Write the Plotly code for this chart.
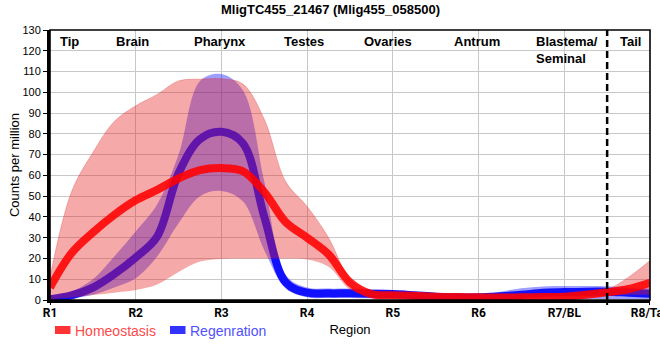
import plotly.graph_objects as go

# x positions along the body axis (R1 = 1 ... R8 = 8)
pos = [1.0, 1.25, 1.5, 1.75, 2.0, 2.25, 2.5, 2.75, 3.0, 3.25, 3.5, 3.75, 4.0, 4.25,
       4.5, 4.75, 5.0, 5.25, 5.5, 5.75, 6.0, 6.25, 6.5, 6.75, 7.0, 7.25, 7.5, 7.75, 8.0]

tick_vals = [1, 2, 3, 4, 5, 6, 7, 8]
tick_text = ["R1", "R2", "R3", "R4", "R5", "R6", "R7/BL", "R8/Tail"]

homeo_mean = [6, 22.5, 32.5, 41, 48, 53, 58.5, 62.5, 63.5, 62, 52, 37.5, 30, 22,
              8.5, 2.8, 2.3, 2.0, 1.6, 1.4, 1.3, 1.2, 1.3, 1.4, 1.6, 2.5, 3.7, 5.3, 8.3]
homeo_hi = [11, 52, 71, 86, 93.5, 99, 105.5, 106.3, 106.5, 104, 87, 57, 45, 30,
            10, 3.5, 3.0, 2.5, 2.0, 1.8, 1.6, 1.6, 1.8, 2.2, 2.6, 3.5, 5, 11, 19]
homeo_lo = [0.3, 1.2, 2.4, 3.5, 4.8, 7.5, 13.5, 18.5, 19.8, 20, 20, 20, 19.5, 16,
            5, 2, 1.5, 1.2, 1.0, 0.9, 0.8, 0.8, 0.8, 0.8, 0.8, 1.2, 2, 2.5, 2.5]

regen_mean = [0.3, 2.2, 6, 12.5, 20.5, 30.5, 61, 77.5, 81, 75.5, 40, 8.5, 3.5, 3.2,
              3.2, 3.0, 2.9, 2.3, 1.6, 1.3, 1.3, 1.8, 2.5, 3.5, 3.8, 4.0, 4.0, 3.5, 3.0]
regen_hi = [0.8, 4, 10, 21, 33, 46, 70, 105.5, 108.8, 101, 57, 12, 6, 5.5,
            5.5, 5, 4.8, 4, 3, 2.5, 2.3, 4, 5.7, 6.5, 6.7, 6.7, 6.6, 6, 5.5]
regen_lo = [0, 0.8, 2.5, 6, 10.5, 21, 37, 50, 52.5, 47.5, 24, 5.5, 1.3, 1,
            1, 0.8, 0.8, 0.5, 0.3, 0.2, 0.2, 0.3, 0.5, 0.5, 0.5, 0.5, 0.5, 0.5, 0.5]

regions = ["Tip", "Brain", "Pharynx", "Testes", "Ovaries", "Antrum", "Blastema/<br>Seminal", "Tail"]
region_x = [1.222, 1.968, 2.983, 3.963, 4.943, 5.982, 6.647, 7.767]
region_anchor = ["center", "center", "center", "center", "center", "center", "left", "center"]

FONT = "Liberation Sans, Arial, sans-serif"
TICKFONT = "Roboto, Liberation Sans, Arial, sans-serif"

fig = go.Figure()
sp = dict(shape="spline", smoothing=1.0)

fig.add_trace(go.Scatter(x=pos, y=regen_lo, mode="lines", line=dict(width=0, **sp),
                         showlegend=False, hoverinfo="skip"))
fig.add_trace(go.Scatter(x=pos, y=regen_hi, mode="lines", line=dict(width=0, **sp),
                         fill="tonexty", fillcolor="rgba(0,0,255,0.38)",
                         showlegend=False, hoverinfo="skip"))
fig.add_trace(go.Scatter(x=pos, y=regen_mean, mode="lines",
                         line=dict(width=8, color="rgba(10,10,255,0.95)", **sp),
                         showlegend=False))
fig.add_trace(go.Scatter(x=pos, y=homeo_lo, mode="lines", line=dict(width=0, **sp),
                         showlegend=False, hoverinfo="skip"))
fig.add_trace(go.Scatter(x=pos, y=homeo_hi, mode="lines",
                         line=dict(width=0.8, color="rgba(220,40,40,0.35)", **sp),
                         fill="tonexty", fillcolor="rgba(228,30,30,0.38)",
                         showlegend=False, hoverinfo="skip"))
fig.add_trace(go.Scatter(x=pos, y=homeo_mean, mode="lines",
                         line=dict(width=8, color="rgba(255,0,0,0.88)", **sp),
                         showlegend=False))

annotations = []
for name, xv, anc in zip(regions, region_x, region_anchor):
    annotations.append(dict(x=xv, y=1, xref="x", yref="paper", yanchor="top", yshift=-2,
                            xanchor=anc, align="left", text="<b>%s</b>" % name, showarrow=False,
                            font=dict(family=FONT, size=13, color="black")))
annotations.append(dict(x=(330 - 50) / 600, y=1, xref="paper", yref="paper", yanchor="top",
                        xanchor="center", text="<b>MligTC455_21467 (Mlig455_058500)</b>",
                        showarrow=False, yshift=30, font=dict(family=FONT, size=13, color="black")))
# legend texts
annotations.append(dict(x=(73 - 50) / 600, y=-31 / 270, xref="paper", yref="paper",
                        xanchor="left", yanchor="middle", text="Homeostasis", showarrow=False,
                        font=dict(family=FONT, size=14, color="#ff4a4a")))
annotations.append(dict(x=(188 - 50) / 600, y=-31 / 270, xref="paper", yref="paper",
                        xanchor="left", yanchor="middle", text="Regenration", showarrow=False,
                        font=dict(family=FONT, size=14, color="#5050ff")))

shapes = [
    dict(type="line", x0=7.5, x1=7.5, y0=0, y1=130, xref="x", yref="y",
         line=dict(color="black", width=2.5, dash="7px,4px")),
    dict(type="rect", x0=0, x1=1, y0=0, y1=1, xref="paper", yref="paper",
         line=dict(color="black", width=1.6)),
    dict(type="rect", x0=(55 - 50) / 600, x1=(70.5 - 50) / 600, y0=-26 / 270, y1=-34 / 270,
         xref="paper", yref="paper", line=dict(width=0), fillcolor="#ff3333"),
    dict(type="rect", x0=(170 - 50) / 600, x1=(185.5 - 50) / 600, y0=-26 / 270, y1=-34 / 270,
         xref="paper", yref="paper", line=dict(width=0), fillcolor="#3333ff"),
]
for tv in [1, 7.5, 8]:
    shapes.append(dict(type="line", x0=tv, x1=tv, y0=0, y1=-5 / 270, xref="x", yref="paper",
                       line=dict(color="black", width=2)))

fig.update_layout(
    width=660, height=360,
    margin=dict(l=50, r=10, t=30, b=60, autoexpand=False),
    plot_bgcolor="white", paper_bgcolor="white",
    font=dict(family=FONT, size=12, color="black"),
    showlegend=False,
    annotations=annotations,
    shapes=shapes,
    xaxis=dict(range=[1, 8], tickvals=tick_vals, ticktext=tick_text,
               showgrid=True, gridcolor="#c8c8c8", gridwidth=1,
               showline=True, linecolor="black", linewidth=3,
               ticks="", automargin=False, ticklabeloverflow="allow",
               tickfont=dict(family=TICKFONT, size=12, color="black", weight="bold"),
               title=dict(text="Region", font=dict(family=FONT, size=13, color="black"), standoff=6),
               zeroline=False, fixedrange=True),
    yaxis=dict(range=[0, 130], dtick=10, showgrid=True, gridcolor="#c8c8c8", gridwidth=1,
               showline=True, linecolor="black", linewidth=3, automargin=False,
               ticks="outside", ticklen=4, tickcolor="black",
               tickfont=dict(family=FONT, size=11, color="black"),
               title=dict(text="Counts per million", font=dict(family=FONT, size=13, color="black"), standoff=0),
               zeroline=False, fixedrange=True),
)

fig.write_html("out.html", config={"displayModeBar": False},
               post_script="document.body.style.margin='0';document.body.style.overflow='hidden';")
